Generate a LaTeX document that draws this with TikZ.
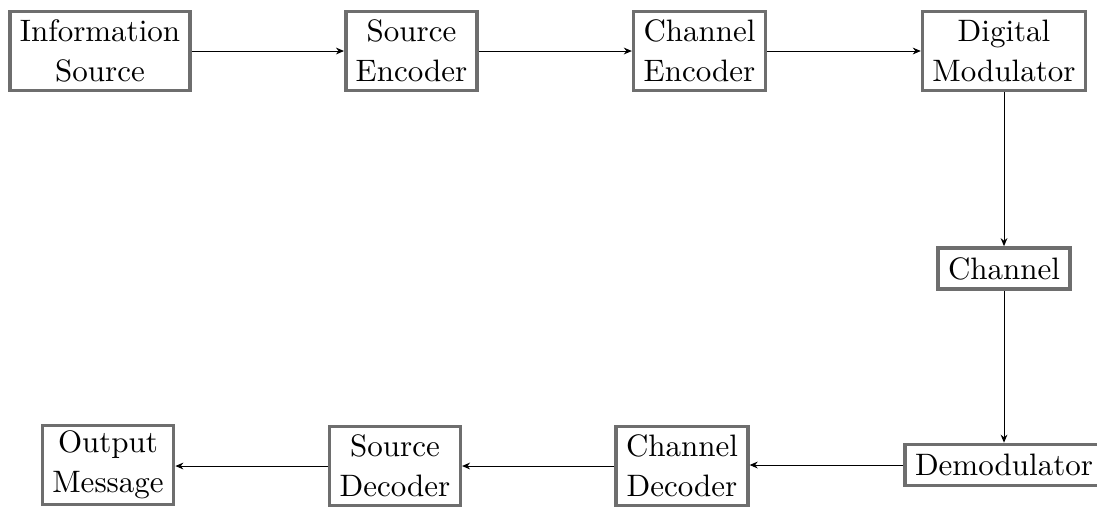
\documentclass[tikz,border=0pt]{standalone}
\usetikzlibrary{arrows.meta}
\definecolor{boxgray}{RGB}{110,110,110}
\tikzset{
  blk/.style={draw=boxgray, line width=1.13pt, fill=white, align=center,
    inner xsep=3.2pt, inner ysep=0pt, minimum height=25.5pt,
    execute at begin node={\setlength{\baselineskip}{12.8pt}}},
  blkone/.style={blk, minimum height=13.3pt},
  flow/.style={-{Stealth[length=2.6pt,width=2.2pt]}, line width=0.32pt, black}
}
\begin{document}
\begin{tikzpicture}[x=0.3226pt, y=-0.3226pt]
  \useasboundingbox (0,0) rectangle (1097,506);
  % transmitter chain
  \node[blk] (info)   at (100,51)    {Information\\Source};
  \node[blk] (srcenc) at (411.5,51)  {Source\\Encoder};
  \node[blk] (chenc)  at (699.5,51)  {Channel\\Encoder};
  \node[blk] (mod)    at (1004,51)   {Digital\\Modulator};
  % channel
  \node[blkone] (chan)  at (1004,268.5) {Channel};
  % receiver chain
  \node[blkone] (demod) at (1004,465)  {Demodulator};
  \node[blk] (chdec)  at (682,466)   {Channel\\Decoder};
  \node[blk] (srcdec) at (395,466)   {Source\\Decoder};
  \node[blk] (out)    at (108,465)   {Output\\Message};
  % signal flow
  \draw[flow] (info.east) -- (srcenc.west);
  \draw[flow] (srcenc.east) -- (chenc.west);
  \draw[flow] (chenc.east) -- (mod.west);
  \draw[flow] (mod.south) -- (chan.north);
  \draw[flow] (chan.south) -- (demod.north);
  \draw[flow] (demod.west) -- (demod.west -| chdec.east);
  \draw[flow] (chdec.west) -- (chdec.west -| srcdec.east);
  \draw[flow] (srcdec.west) -- (srcdec.west -| out.east);
\end{tikzpicture}
\end{document}
